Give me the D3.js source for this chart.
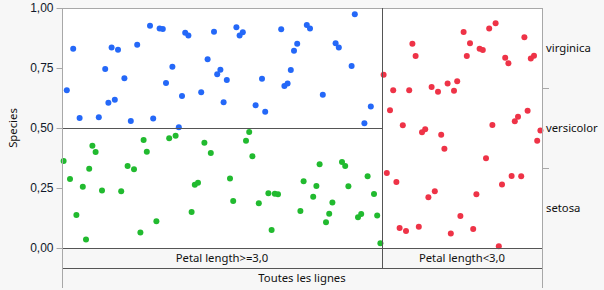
<!DOCTYPE html>
<html><head><meta charset="utf-8">
<script src="https://cdn.jsdelivr.net/npm/d3@7"></script>
<style>
html,body{margin:0;padding:0;background:#f7f7f7;}
svg{display:block;font-family:"Noto Sans","Open Sans",sans-serif;}
</style></head>
<body>
<script>
// ---- data ----
const yTicks = [0, 0.25, 0.5, 0.75, 1];
const speciesLabels = ["virginica", "versicolor", "setosa"];
const partitionLabels = ["Petal length>=3,0", "Petal length<3,0"];
const partitionRows = [100, 50];
const rootLabel = "Toutes les lignes";
const yTitle = "Species";
const splitLevels = [0.5, 1.0]; // versicolor/virginica boundary in left partition, setosa=all in right

// rows (position within all rows) and y values
const virginicaRow = [1,3,5,11,13,14,15,16,17,19,21,23,27,28,30,31,32,34,36,37,38,39,43,45,47,48,49,50,51,54,55,56,60,62,63,68,69,70,71,72,73,76,77,81,85,86,90,91,94,96];
const virginicaY = [0.657,0.830,0.542,0.545,0.746,0.605,0.835,0.618,0.826,0.707,0.529,0.847,0.926,0.540,0.915,0.912,0.688,0.755,0.503,0.633,0.897,0.885,0.649,0.786,0.901,0.724,0.743,0.607,0.700,0.920,0.885,0.899,0.595,0.705,0.568,0.911,0.675,0.685,0.742,0.822,0.851,0.929,0.915,0.639,0.853,0.835,0.758,0.974,0.520,0.590];
const versicolorRow = [0,2,4,6,7,8,9,10,12,18,20,22,24,25,26,29,33,35,40,41,42,44,46,52,53,57,58,59,61,64,65,66,67,74,75,78,79,80,82,83,84,87,88,89,92,93,95,97,98,99];
const versicolorY = [0.363,0.288,0.138,0.255,0.035,0.330,0.426,0.400,0.240,0.236,0.342,0.328,0.065,0.450,0.401,0.111,0.457,0.468,0.150,0.264,0.272,0.439,0.396,0.290,0.196,0.447,0.483,0.382,0.186,0.228,0.075,0.226,0.224,0.154,0.278,0.214,0.258,0.349,0.107,0.143,0.190,0.358,0.342,0.257,0.128,0.142,0.299,0.225,0.135,0.020];
const setosaRow = [100,101,102,103,104,105,106,107,108,109,110,111,112,113,114,115,116,117,118,119,120,121,122,123,124,125,126,127,128,129,130,131,132,133,134,135,136,137,138,139,140,141,142,143,144,145,146,147,148,149];
const setosaY = [0.722,0.313,0.574,0.657,0.275,0.083,0.511,0.071,0.657,0.851,0.800,0.089,0.482,0.495,0.211,0.671,0.236,0.651,0.472,0.414,0.685,0.060,0.655,0.695,0.133,0.900,0.800,0.853,0.079,0.224,0.830,0.825,0.374,0.915,0.513,0.936,0.007,0.265,0.793,0.770,0.300,0.528,0.547,0.299,0.878,0.572,0.790,0.801,0.447,0.490];

const colors = {virginica:"#2468f8", versicolor:"#21ba2f", setosa:"#ee3347"};

// ---- layout ----
const W = 604, H = 290;
const L = 62, R = 542, T = 8, B = 248;
const rowH = 20;
const fs = "11.3px";

const svg = d3.select("body").append("svg").attr("width", W).attr("height", H);

const totalRows = d3.sum(partitionRows);
const x = d3.scaleLinear().domain([0, totalRows]).range([L, R]);
const y = d3.scaleLinear().domain([0, 1]).range([B, T]);
const splitX = x(partitionRows[0]);

// plot background
svg.append("rect").attr("x", L).attr("y", T).attr("width", R - L).attr("height", B - T).attr("fill", "#fff");

// points
function drawPts(rows, ys, col) {
  svg.append("g").selectAll("circle").data(rows.map((r, i) => [r, ys[i]])).join("circle")
    .attr("cx", d => x(d[0] + 0.5)).attr("cy", d => y(d[1])).attr("r", 3).attr("fill", col);
}
drawPts(virginicaRow, virginicaY, colors.virginica);
drawPts(versicolorRow, versicolorY, colors.versicolor);
drawPts(setosaRow, setosaY, colors.setosa);

const dark = "#555", light = "#a8a8a8";
// top frame
svg.append("line").attr("x1", L).attr("x2", R).attr("y1", T + 0.5).attr("y2", T + 0.5).attr("stroke", light);
// split line within left partition
svg.append("line").attr("x1", L).attr("x2", splitX).attr("y1", Math.round(y(splitLevels[0])) + 0.5).attr("y2", Math.round(y(splitLevels[0])) + 0.5).attr("stroke", dark);
// bottom lines
svg.append("line").attr("x1", L).attr("x2", R).attr("y1", B + 0.5).attr("y2", B + 0.5).attr("stroke", dark);
svg.append("line").attr("x1", L).attr("x2", R).attr("y1", B + rowH + 0.5).attr("y2", B + rowH + 0.5).attr("stroke", dark);
// partition vertical
svg.append("line").attr("x1", Math.round(splitX) + 0.5).attr("x2", Math.round(splitX) + 0.5).attr("y1", T).attr("y2", B + rowH).attr("stroke", dark);

// left axis
const fmtLocale = d3.formatLocale({decimal: ",", thousands: " ", grouping: [3], currency: ["", "€"]});
const yAxis = d3.axisLeft(y).tickValues(yTicks).tickFormat(fmtLocale.format(".2f")).tickSize(6).tickPadding(3);
const ga = svg.append("g").attr("transform", `translate(${L + 0.5},0)`).call(yAxis);
ga.select(".domain").remove();
ga.selectAll(".tick line").attr("stroke", light);
ga.selectAll(".tick text").attr("fill", "#10182a").style("font-size", "12px");
svg.append("line").attr("x1", L + 0.5).attr("x2", L + 0.5).attr("y1", T).attr("y2", B + 2 * rowH).attr("stroke", light);

// right axis
svg.append("line").attr("x1", R + 0.5).attr("x2", R + 0.5).attr("y1", T).attr("y2", B + 2 * rowH).attr("stroke", light);
const band = d3.scaleBand().domain(speciesLabels).range([T, B]);
const gr = svg.append("g");
speciesLabels.slice(1).forEach(s => {
  gr.append("line").attr("x1", R).attr("x2", R + 7).attr("y1", Math.round(band(s)) + 0.5).attr("y2", Math.round(band(s)) + 0.5).attr("stroke", light);
});
gr.selectAll("text").data(speciesLabels).join("text")
  .attr("x", R + 4).attr("y", d => band(d) + band.bandwidth() / 2).attr("dy", "0.35em")
  .attr("fill", "#111").style("font-size", fs).text(d => d);

// y title
svg.append("text").attr("transform", `translate(17,${(T + B) / 2}) rotate(-90)`).attr("text-anchor", "middle")
  .attr("fill", "#111").style("font-size", fs).text(yTitle);

// partition labels
const pStarts = [0, partitionRows[0]];
svg.append("g").selectAll("text").data(partitionLabels).join("text")
  .attr("x", (d, i) => x(pStarts[i] + partitionRows[i] / 2)).attr("y", B + rowH / 2).attr("dy", "0.35em")
  .attr("text-anchor", "middle").attr("fill", "#111").style("font-size", fs).text(d => d);
svg.append("text").attr("x", (L + R) / 2).attr("y", B + rowH * 1.5).attr("dy", "0.35em")
  .attr("text-anchor", "middle").attr("fill", "#111").style("font-size", fs).text(rootLabel);
</script>
</body></html>
